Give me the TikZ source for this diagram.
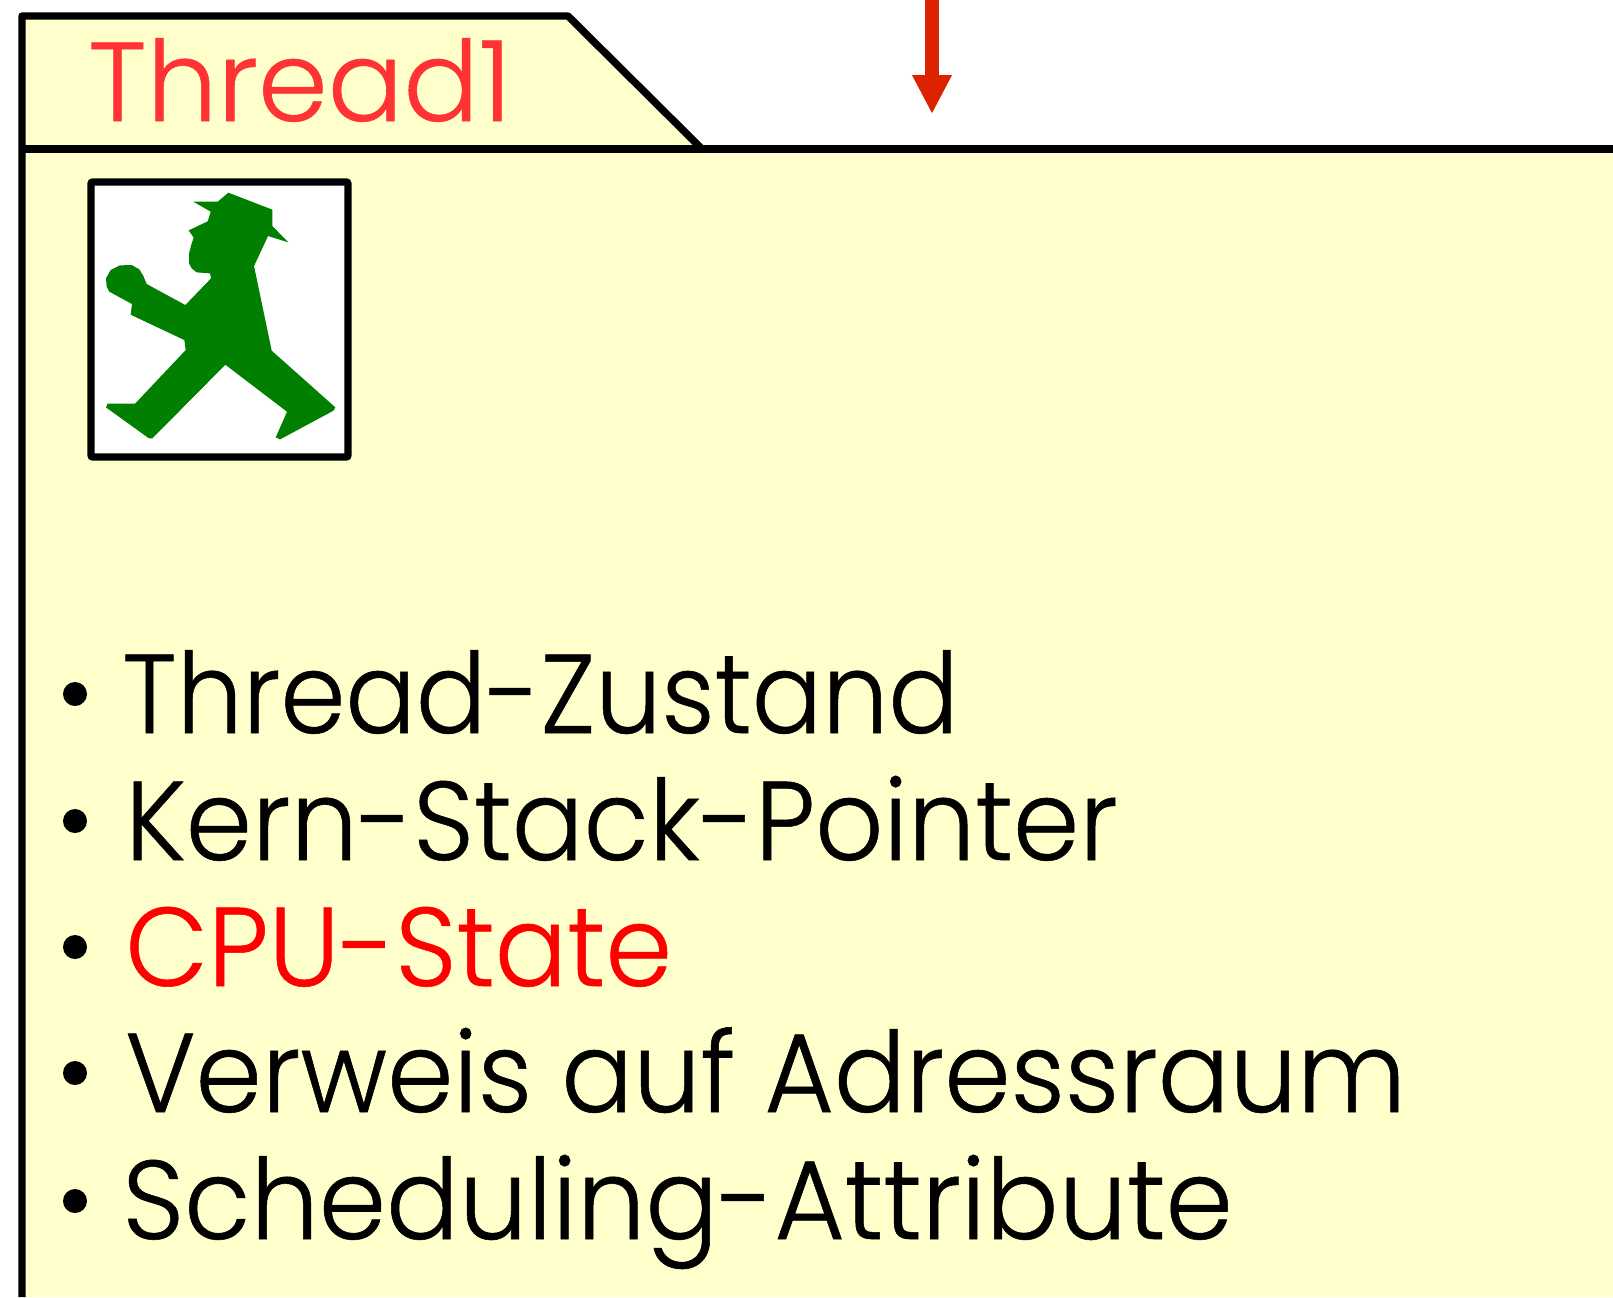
\documentclass[tikz,border=0pt]{standalone}
\usepackage{fontspec}
\setmainfont{Poppins}[UprightFont=* Light,UprightFeatures={FakeBold=0.5}]
\usetikzlibrary{arrows.meta}
\definecolor{panelfill}{HTML}{FFFFCC}
\definecolor{tabred}{HTML}{FF3333}
\definecolor{arrowred}{HTML}{DD2200}
\definecolor{mangreen}{HTML}{007F00}
\newcommand{\squeezetext}[2]{\scalebox{#1}[1]{#2}}
\tikzset{
  outline/.style={draw=black,line width=3.7pt,line join=round},
  itemtext/.style={anchor=base west,inner sep=0pt,font=\fontsize{56}{66}\selectfont},
  bulletdot/.style={circle,fill=black,inner sep=0pt,minimum size=12pt},
}
\begin{document}
\begin{tikzpicture}[x=0.5pt,y=-0.5pt]
\useasboundingbox (0,0) rectangle (1613,1297);
\fill[panelfill] (22,16) -- (568,16) -- (702,149) -- (1613,149) -- (1613,1297) -- (22,1297) -- cycle;
\draw[outline] (22,1297) -- (22,16) -- (568,16) -- (702,149);
\draw[outline] (22,149) -- (1613,149);
\node[anchor=base west,inner sep=0pt,text=tabred,font=\fontsize{56}{66}\selectfont] (title) at (88,121) {\squeezetext{1}{Thread1}};
\coordinate (arrowstart) at (932,0);
\coordinate (arrowend) at (932,114);
\draw[arrowred,line width=7.4pt,-{Triangle[length=19.5pt,width=18.5pt]}] (arrowstart) -- (arrowend);
\node[draw=black,fill=white,line width=3.7pt,rounded corners=1pt,inner sep=0pt,outer sep=0pt,minimum width=128.5pt,minimum height=137.5pt,anchor=north west] (frame) at (91,182) {};
\begin{scope}[shift={(70,160)},x=0.1667pt,y=-0.1667pt]
\fill[mangreen,line join=round] (370,125) -- (443,125) -- (475,98) -- (607,149) -- (607,198) -- (655,247) -- (594,228) -- (552,318) -- (605,572) -- (796,742) -- (790,752) -- (630,838) -- (617,832) -- (651,755) -- (466,614) -- (247,835) -- (237,835) -- (108,742) -- (113,731) -- (195,731) -- (347,570) -- (343,540) -- (182,464) -- (186,432) -- (118,395) -- (110,380) -- (108,355) -- (122,330) -- (150,316) -- (185,315) -- (208,328) -- (220,348) -- (230,372) -- (346,435) -- (423,355) -- (420,340) -- (380,337) -- (365,325) -- (357,310) -- (357,280) -- (365,250) -- (371,233) -- (356,211) -- (413,184) -- (422,155) -- cycle;
\end{scope}
\node[bulletdot] (b1) at (75,694) {};
\node[bulletdot] (b2) at (75,821) {};
\node[bulletdot] (b3) at (75,947) {};
\node[bulletdot] (b4) at (75,1073) {};
\node[bulletdot] (b5) at (75,1201) {};
\node[itemtext] (t1) at (122,733) {\squeezetext{.932}{Thread-Zustand}};
\node[itemtext] (t2) at (125,860) {\squeezetext{.95}{Kern-Stack-Pointer}};
\node[itemtext,text=red] (t3) at (125,986) {\squeezetext{.958}{CPU-State}};
\node[itemtext] (t4) at (125,1112) {\squeezetext{.951}{Verweis auf Adressraum}};
\node[itemtext] (t5) at (122,1239) {\squeezetext{.965}{Scheduling-Attribute}};
\end{tikzpicture}
\end{document}
